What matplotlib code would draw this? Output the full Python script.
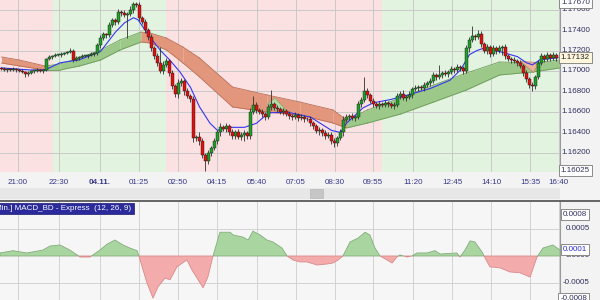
import numpy as np
import matplotlib.pyplot as plt
import matplotlib.transforms as mtransforms
from matplotlib.patches import Rectangle
from matplotlib.lines import Line2D

plt.rcParams['font.family'] = ['Liberation Sans', 'DejaVu Sans']

# ---- price data (5 min candles), closes ----
closes = [
    1.1702, 1.1701, 1.1702, 1.1701, 1.1702, 1.1701, 1.1700, 1.1699, 1.1697, 1.1698,
    1.1700, 1.1700, 1.1701, 1.1700, 1.1701, 1.1712, 1.1714, 1.1715, 1.1716, 1.1716,
    1.1717, 1.1718, 1.1719, 1.1720, 1.1711, 1.1713, 1.1714, 1.1715, 1.1715, 1.1716,
    1.1717, 1.1718, 1.1725, 1.1732, 1.1736, 1.1735, 1.1745, 1.1750, 1.1748, 1.1758,
    1.1757, 1.1755, 1.1756, 1.1760, 1.1765, 1.1764, 1.1752, 1.1748, 1.1740, 1.1733,
    1.1722, 1.1715, 1.1708, 1.1700, 1.1706, 1.1710, 1.1698, 1.1685, 1.1678, 1.1688,
    1.1690, 1.1680, 1.1676, 1.1673, 1.1635, 1.1636, 1.1632, 1.1618, 1.1612, 1.1620,
    1.1625, 1.1632, 1.1640, 1.1645, 1.1643, 1.1646, 1.1640, 1.1637, 1.1640, 1.1636,
    1.1638, 1.1639, 1.1637, 1.1660, 1.1667, 1.1662, 1.1660, 1.1658, 1.1655, 1.1665,
    1.1668, 1.1664, 1.1663, 1.1660, 1.1661, 1.1658, 1.1656, 1.1655, 1.1657, 1.1654,
    1.1655, 1.1653, 1.1653, 1.1649, 1.1646, 1.1641, 1.1642, 1.1639, 1.1637, 1.1638,
    1.1632, 1.1630, 1.1635, 1.1640, 1.1652, 1.1655, 1.1656, 1.1654, 1.1655, 1.1668,
    1.1672, 1.1680, 1.1677, 1.1671, 1.1668, 1.1666, 1.1668, 1.1667, 1.1669, 1.1668,
    1.1666, 1.1667, 1.1676, 1.1678, 1.1674, 1.1675, 1.1677, 1.1682, 1.1683, 1.1684,
    1.1683, 1.1686, 1.1688, 1.1690, 1.1696, 1.1694, 1.1696, 1.1698, 1.1697, 1.1699,
    1.1702, 1.1701, 1.1704, 1.1703, 1.1700, 1.1722, 1.1730, 1.1734, 1.1733, 1.1736,
    1.1726, 1.1720, 1.1723, 1.1717, 1.1722, 1.1720, 1.1722, 1.1723, 1.1715, 1.1712,
    1.1711, 1.1710, 1.1708, 1.1705, 1.1698, 1.1692, 1.1686, 1.1685, 1.1694, 1.1708,
    1.1715, 1.1712, 1.1716, 1.1713, 1.1716, 1.1713,
]
first_open = 1.1703
# wick lengths above / below the body, in pips
wick_hi = [
    1, 2, 1, 1, 2, 1, 1, 2, 1, 2, 1, 1, 2, 1, 1, 1, 2, 1, 2, 1,
    2, 1, 1, 2, 1, 2, 1, 2, 1, 1, 2, 1, 2, 3, 2, 1, 3, 2, 2, 3,
    2, 3, 2, 3, 2, 2, 3, 2, 3, 2, 3, 2, 3, 15, 4, 3, 2, 3, 2, 4,
    3, 2, 3, 2, 3, 2, 4, 3, 2, 3, 2, 3, 2, 4, 2, 3, 2, 3, 2, 3,
    2, 3, 2, 4, 9, 3, 2, 3, 2, 3, 13, 2, 3, 2, 3, 2, 3, 2, 3, 2,
    3, 2, 2, 3, 2, 2, 3, 2, 3, 2, 2, 3, 2, 3, 4, 3, 2, 3, 2, 3,
    3, 14, 3, 2, 3, 2, 3, 2, 3, 2, 2, 3, 3, 2, 3, 2, 3, 2, 3, 2,
    2, 3, 2, 3, 3, 2, 10, 2, 3, 2, 3, 2, 3, 2, 2, 3, 3, 10, 2, 4,
    3, 2, 3, 2, 3, 2, 3, 2, 3, 2, 2, 3, 2, 3, 2, 3, 2, 3, 2, 3,
    3, 2, 3, 2, 3, 2,
]
wick_lo = [
    1, 1, 2, 1, 1, 2, 1, 1, 3, 2, 1, 2, 1, 1, 2, 1, 1, 2, 1, 1,
    2, 1, 1, 1, 2, 1, 2, 1, 1, 2, 1, 2, 2, 3, 2, 3, 2, 2, 3, 2,
    3, 2, 23, 2, 3, 2, 3, 2, 3, 3, 2, 3, 3, 2, 3, 2, 3, 3, 3, 4,
    3, 3, 2, 3, 4, 3, 4, 3, 10, 3, 3, 2, 3, 3, 2, 3, 2, 3, 3, 2,
    3, 6, 3, 3, 2, 3, 2, 3, 3, 2, 3, 2, 3, 2, 3, 2, 3, 3, 2, 3,
    2, 3, 2, 3, 3, 2, 3, 2, 3, 2, 3, 4, 3, 2, 3, 2, 3, 2, 3, 2,
    3, 2, 3, 2, 3, 2, 3, 2, 2, 3, 2, 3, 2, 3, 2, 3, 2, 3, 2, 3,
    2, 3, 2, 3, 2, 3, 2, 3, 2, 3, 2, 3, 2, 3, 3, 2, 3, 2, 3, 2,
    3, 2, 3, 3, 2, 3, 2, 6, 3, 2, 3, 2, 3, 2, 3, 3, 3, 5, 3, 2,
    2, 3, 2, 3, 2, 3,
]

# fast moving average (blue line)
ma_x = [0, 9.5, 14.5, 19.5, 26, 33, 38, 41, 44, 45.5, 49.5, 53, 56, 59.5, 63, 66,
        69.5, 72, 75, 81, 85, 89, 95, 103, 110, 113, 115, 120.5, 124, 129.5, 136,
        143, 149.5, 153, 156, 158.5, 160.5, 166, 172, 175, 177, 179.5, 185.5]
ma_y = [1.1703, 1.1701, 1.1701, 1.1708, 1.1711, 1.1719, 1.1738, 1.1747, 1.1752,
        1.1750, 1.1733, 1.1720, 1.1711, 1.1699, 1.1684, 1.1665, 1.1649, 1.1642,
        1.1645, 1.1645, 1.1649, 1.1659, 1.1660, 1.1655, 1.1642, 1.1640, 1.1649,
        1.1664, 1.1669, 1.1672, 1.1677, 1.1683, 1.1691, 1.1701, 1.1716, 1.1720,
        1.1722, 1.1719, 1.1714, 1.1708, 1.1706, 1.1711, 1.1713]

# slow ribbon (two averages) and its colour per segment
rib_x = [0, 6, 14.5, 19.5, 26, 33, 39.5, 46.5, 49.5, 55, 60.5, 66, 77, 88.5, 99.5,
         110.5, 115, 122, 133, 144, 155, 166, 177, 186]
rib_top = [1.17137, 1.17107, 1.17049, 1.17068, 1.17127, 1.17205, 1.17303, 1.17380,
           1.17371, 1.17322, 1.17234, 1.17127, 1.16844, 1.16766, 1.16697, 1.16620,
           1.16522, 1.16620, 1.16737, 1.16863, 1.16980, 1.17088, 1.17078, 1.17107]
rib_bot = [1.17078, 1.17049, 1.17010, 1.17010, 1.17049, 1.17107, 1.17205, 1.17283,
           1.17273, 1.17205, 1.17078, 1.16942, 1.16649, 1.16600, 1.16570, 1.16492,
           1.16444, 1.16492, 1.16580, 1.16697, 1.16815, 1.16961, 1.16990, 1.17029]
rib_col = ['r', 'r', 'g', 'g', 'g', 'g', 'g', 'r', 'r', 'r', 'r', 'r', 'r', 'r',
           'r', 'r', 'g', 'g', 'g', 'g', 'g', 'g', 'g']

# short crossings of the fast average over the ribbon
cross_g_x = [88.5, 91, 94.5]
cross_g_lo = [1.1668, 1.1662, 1.1663]
cross_g_hi = [1.1668, 1.1674, 1.1663]
cross_r_x = [172.8, 177.2, 178.5]
cross_r_lo = [1.1710, 1.1699, 1.1706]
cross_r_hi = [1.1710, 1.1709, 1.1706]

# background trend zones (start, end, colour)
zones = [(-0.5, 17.2, 'r'), (17.2, 54.8, 'g'), (54.8, 126.8, 'r'), (126.8, 187, 'g')]

# MACD histogram line
macd_x = [-0.5, 3.8, 8.5, 13.8, 16.2, 19.5, 22.8, 26.2, 29.5, 32.8, 35.2, 37.8,
          40.5, 42.8, 45.2, 45.8, 48.5, 50.5, 52.2, 54.5, 56.2, 58.5, 61.8, 63.5,
          66.2, 67.2, 68.8, 70.5, 72.8, 76.2, 77.2, 80.5, 82.2, 83.8, 86.2, 88.5,
          90.5, 93.5, 95.2, 97.2, 99.5, 101.8, 105.2, 108.5, 110.5, 112.2, 113.8,
          116.2, 118.8, 121.2, 122.8, 124.5, 126.2, 128.5, 130.2, 131.8, 132.8,
          135.2, 136.8, 138.5, 141.8, 144.5, 146.2, 151.8, 152.8, 154.5, 156.2,
          157.8, 160.2, 161.2, 162.8, 166.2, 169.5, 172.8, 176.2, 178.5, 180.5,
          183.8, 186.2]
macd_y = [0.56, 0.98, 0.56, 1.1, 1.85, 2.04, 1.1, -0.19, -0.19, 1.1, 2.2, 2.96,
          2.04, 1.48, 0.98, 0.0, -5.0, -7.8, -5.7, -4.1, -4.4, -2.0, -0.74, -2.6,
          -5.0, -5.9, -3.9, 0.0, 4.4, 4.4, 3.9, 3.5, 2.96, 4.6, 3.9, 2.96, 2.6,
          1.48, 0.0, -0.74, -1.1, -1.1, -1.67, -1.48, -1.3, -0.74, 0.0, 2.6, 3.3,
          4.4, 3.9, 1.48, 0.0, -0.74, -1.3, -0.19, 0.19, -0.19, 0.0, 0.56, 0.56,
          0.98, 0.37, 0.56, -0.19, 1.1, 2.8, 2.6, 0.74, -0.37, -2.0, -2.2, -2.96,
          -3.1, -3.9, -0.19, 1.48, 2.04, 1.1]

tick_pos = [5.5, 19.2, 32.8, 45.8, 58.8, 71.8, 85.2, 98.2, 111.2, 123.8, 137.2,
            150.2, 163.2, 176.2, 185.8]
tick_lab = ['21:00', '22:30', '04.11.', '01:25', '02:50', '04:15', '05:40', '07:05',
            '08:30', '09:55', '11:20', '12:45', '14:10', '15:35', '16:40']
price_ticks = [1.176, 1.174, 1.172, 1.170, 1.168, 1.166, 1.164, 1.162]

TXT = '#2e2e5e'
TIME_TXT = '#36368a'
FS = 5.8

fig = plt.figure(figsize=(6, 3), dpi=100, facecolor='#f3f3f3')
W, H = 600.0, 300.0
ax = fig.add_axes([0, 1 - 172 / H, 560 / W, 172 / H])
ax2 = fig.add_axes([0, 0, 560 / W, 98 / H])

xlim = (-0.5, 186.17)

# ---------------- price panel ----------------
ax.set_xlim(*xlim)
ax.set_ylim(1.16014, 1.17693)
zone_col = {'r': '#fbe1e1', 'g': '#e2f3df'}
for a, b, c in zones:
    ax.axvspan(a, b, color=zone_col[c], lw=0, zorder=0)
for p in price_ticks:
    ax.axhline(p, color='#c9c9c9', lw=0.7, zorder=1)
for t in tick_pos:
    ax.axvline(t, color='#c9c9c9', lw=0.7, zorder=1)

rib_fill = {'r': '#e2967c', 'g': '#9cc88a'}
rib_edge = {'r': '#b86f58', 'g': '#6e9c5c'}
for k, c in enumerate(rib_col):
    xs = [rib_x[k], rib_x[k + 1]]
    ax.fill_between(xs, [rib_bot[k], rib_bot[k + 1]], [rib_top[k], rib_top[k + 1]],
                    color=rib_fill[c], lw=0, zorder=2)
    ax.plot(xs, [rib_top[k], rib_top[k + 1]], color=rib_edge[c], lw=0.6, zorder=2)
    ax.plot(xs, [rib_bot[k], rib_bot[k + 1]], color=rib_edge[c], lw=0.6, zorder=2)

ax.fill_between(cross_g_x, cross_g_lo, cross_g_hi, fc='#b9d9a6', ec='#7fa86c',
                lw=0.5, zorder=2.5)
ax.fill_between(cross_r_x, cross_r_lo, cross_r_hi, fc='#ebb39a', ec='#c08068',
                lw=0.5, zorder=2.5)

ax.plot(ma_x, ma_y, color='#3535ee', lw=0.8, zorder=3)

closes_a = np.array(closes)
opens_a = np.concatenate([[first_open], closes_a[:-1]])
idx = np.arange(len(closes_a))
top = np.maximum(opens_a, closes_a)
bot = np.minimum(opens_a, closes_a)
highs = top + np.array(wick_hi) * 1e-4
lows = bot - np.array(wick_lo) * 1e-4
ax.vlines(idx, lows, highs, color='#303030', lw=0.6, zorder=4)
up = closes_a >= opens_a
height = np.maximum(top - bot, 0.00005)
ax.bar(idx[up], height[up], bottom=bot[up], width=0.75, color='#1f9e2a',
       edgecolor='#1a1a1a', lw=0.3, zorder=5)
ax.bar(idx[~up], height[~up], bottom=bot[~up], width=0.75, color='#e01010',
       edgecolor='#1a1a1a', lw=0.3, zorder=5)

ax.set_xticks([])
ax.set_yticks([])
for s in ax.spines.values():
    s.set_visible(False)
ax.axvline(xlim[1], color='#9a9a9a', lw=0.8, clip_on=False)

tr = mtransforms.blended_transform_factory(ax.transAxes, ax.transData)
xr = 590 / 560
for p in price_ticks:
    ax.text(xr, p, '%.5f' % p, transform=tr, ha='right', va='center',
            fontsize=FS, color=TXT, clip_on=False)

box = dict(boxstyle='square,pad=0.25', fc='white', ec='#7a7a7a', lw=0.6)
ax.text(xr, 1.17670, '1.17670', transform=tr, ha='right', va='center',
        fontsize=FS, color=TXT, bbox=box, clip_on=False)
ax.text(xr, 1.16025, '1.16025', transform=tr, ha='right', va='center',
        fontsize=FS, color=TXT, bbox=box, clip_on=False)
ax.text(xr, 1.17132, '1.17132', transform=tr, ha='right', va='center',
        fontsize=FS, color='#222222',
        bbox=dict(boxstyle='square,pad=0.25', fc='#fff6dc', ec='#7a7a7a', lw=0.6),
        clip_on=False)

# time labels
for t, lab in zip(tick_pos, tick_lab):
    xf = (t - xlim[0]) / (xlim[1] - xlim[0]) * 560 / W
    fig.text(xf, 1 - 183 / H, lab, ha='center', va='center', fontsize=FS,
             color=TIME_TXT, fontweight='bold' if lab == '04.11.' else 'normal')

# scrollbar and separator
fig.patches.append(Rectangle((0, 1 - 199 / H), 560 / W, 11 / H, transform=fig.transFigure,
                             fc='#e7e7e7', ec='none'))
fig.patches.append(Rectangle((310 / W, 1 - 198 / H), 13 / W, 9 / H, transform=fig.transFigure,
                             fc='#c6c6c6', ec='#b0b0b0', lw=0.4))
fig.lines.append(Line2D([0, 1], [1 - 200.8 / H] * 2, transform=fig.transFigure,
                        color='#5a5a5a', lw=1.3))

# ---------------- MACD panel ----------------
ax2.set_facecolor('#f6f6f6')
ax2.set_xlim(*xlim)
ax2.set_ylim(-0.000815, 0.00100)
for v in [0.0005, -0.0005]:
    ax2.axhline(v, color='#d2d2d2', lw=0.7, zorder=1)
for t in tick_pos:
    ax2.axvline(t, color='#d2d2d2', lw=0.7, zorder=1)
mx = np.array(macd_x)
my = np.array(macd_y) * 1e-4
ax2.fill_between(mx, my, 0, where=my >= 0, interpolate=True, fc='#a9d6a0',
                 ec='#84ad7c', lw=0.6, zorder=2)
ax2.fill_between(mx, my, 0, where=my <= 0, interpolate=True, fc='#f3abab',
                 ec='#d98a8a', lw=0.6, zorder=2)
ax2.set_xticks([])
ax2.set_yticks([])
for s in ax2.spines.values():
    s.set_visible(False)
ax2.axvline(xlim[1], color='#9a9a9a', lw=0.8, clip_on=False)

tr2 = mtransforms.blended_transform_factory(ax2.transAxes, ax2.transData)
for v, lab in [(0.0005, '0.0005'), (0.0, '0.0000'), (-0.0005, '-0.0005')]:
    ax2.text(xr, v, lab, transform=tr2, ha='right', va='center', fontsize=FS,
             color=TXT, clip_on=False)
ax2.text(xr - 0.005, 0.00076, '0.0008', transform=tr2, ha='right', va='center',
         fontsize=FS, color=TXT, bbox=box, clip_on=False)
ax2.text(xr - 0.005, 0.00012, '0.0001', transform=tr2, ha='right', va='center',
         fontsize=FS, color='#2a2ad0', bbox=box, clip_on=False)
ax2.text(xr - 0.005, -0.00078, '-0.0008', transform=tr2, ha='right', va='center',
         fontsize=FS, color=TXT, bbox=box, clip_on=False)

fig.text(-13.5 / W, 1 - 208.5 / H, '[5 Min.] MACD_BD - Express  (12, 26, 9)',
         ha='left', va='center', fontsize=FS, color='white',
         bbox=dict(boxstyle='square,pad=0.3', fc='#2a2a9c', ec='#1a1a70', lw=0.5))

fig.savefig('out.png', dpi=100, facecolor=fig.get_facecolor())
